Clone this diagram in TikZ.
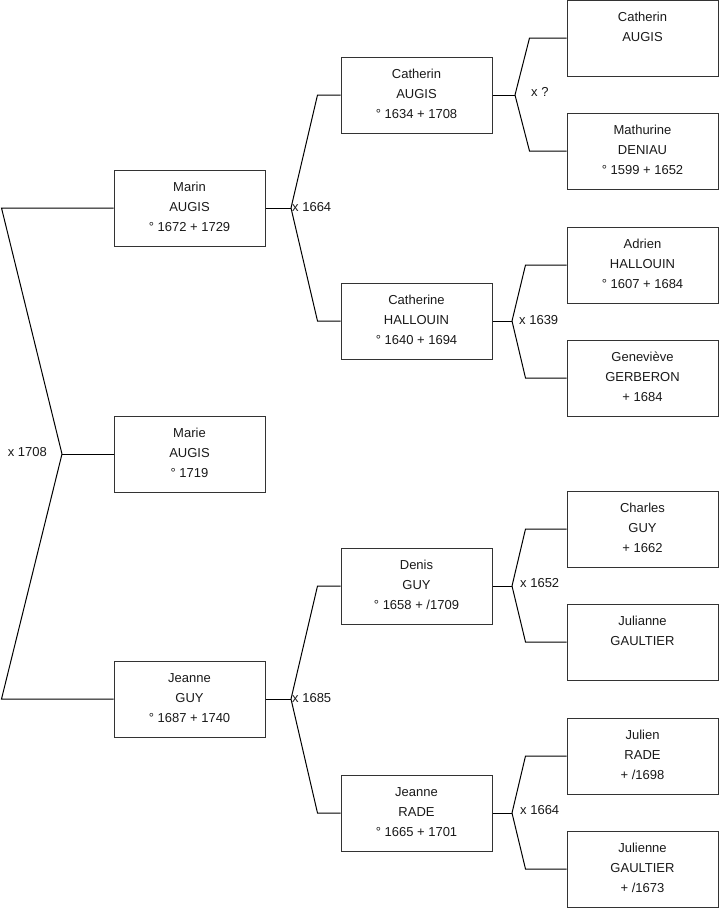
\documentclass[tikz,border=0pt]{standalone}
\usepackage{fontspec}
\setmainfont{Liberation Sans}
\usetikzlibrary{calc}
\tikzset{
 pbox/.style={draw=black!80, line width=1pt, minimum width=151pt, minimum height=76pt, inner sep=0pt},
 ptxt/.style={align=center, font=\fontsize{13}{20}\selectfont, inner sep=0pt, anchor=north, text=black!90},
 conn/.style={draw=black, line width=1pt},
 lbl/.style={font=\fontsize{13}{15}\selectfont, inner sep=0pt, text=black!90}
}
\newcommand{\person}[4]{%
  \node[pbox] (#1) at (#2) {};
  \node[ptxt] (#1t) at ($(#1.north)+(0,#3)$) {#4};
}
\begin{document}
\begin{tikzpicture}[x=1pt,y=-1pt]
\useasboundingbox (0,0) rectangle (719,908);
% column 1
\person{marin}{189.5,208}{12.5}{Marin\\AUGIS\\° 1672 + 1729}
\person{marie}{189.5,454}{12.5}{Marie\\AUGIS\\° 1719}
\person{jeanne}{189.5,699}{12.5}{Jeanne\\GUY\\° 1687 + 1740}
% column 2
\person{catherin}{416.5,95}{12.5}{Catherin\\AUGIS\\° 1634 + 1708}
\person{catherine}{416.5,321}{12.5}{Catherine\\HALLOUIN\\° 1640 + 1694}
\person{denis}{416.5,586}{12.5}{Denis\\GUY\\° 1658 + /1709}
\person{jrade}{416.5,813}{12.5}{Jeanne\\RADE\\° 1665 + 1701}
% column 3
\person{catherinp}{642.5,38}{12.5}{Catherin\\AUGIS}
\person{mathurine}{642.5,151}{12.5}{Mathurine\\DENIAU\\° 1599 + 1652}
\person{adrien}{642.5,265}{12.5}{Adrien\\HALLOUIN\\° 1607 + 1684}
\person{genevieve}{642.5,378}{12.5}{Geneviève\\GERBERON\\+ 1684}
\person{charles}{642.5,529}{12.5}{Charles\\GUY\\+ 1662}
\person{julianne}{642.5,642}{12.5}{Julianne\\GAULTIER}
\person{julien}{642.5,756}{12.5}{Julien\\RADE\\+ /1698}
\person{julienne}{642.5,869}{12.5}{Julienne\\GAULTIER\\+ /1673}
% root fork
\coordinate (f0) at (62,454);
\draw[conn] (marie.west) -- (f0);
\draw[conn] (f0) -- ([xshift=-112]marin.west) -- (marin.west);
\draw[conn] (f0) -- ([xshift=-112]jeanne.west) -- (jeanne.west);
\node[lbl, anchor=east] (l0) at (47,452) {x 1708};
% Marin fork
\coordinate (f1) at (291,208);
\draw[conn] (marin.east) -- (f1);
\draw[conn] (f1) -- ([xshift=-23]catherin.west) -- (catherin.west);
\draw[conn] (f1) -- ([xshift=-23]catherine.west) -- (catherine.west);
\node[lbl, anchor=west] (l1) at (292,207) {x 1664};
% Jeanne fork
\coordinate (f2) at (291,699);
\draw[conn] (jeanne.east) -- (f2);
\draw[conn] (f2) -- ([xshift=-23]denis.west) -- (denis.west);
\draw[conn] (f2) -- ([xshift=-23]jrade.west) -- (jrade.west);
\node[lbl, anchor=west] (l2) at (292,698) {x 1685};
% Catherin fork
\coordinate (f3) at (515,95);
\draw[conn] (catherin.east) -- (f3);
\draw[conn] (f3) -- ([xshift=-37]catherinp.west) -- (catherinp.west);
\draw[conn] (f3) -- ([xshift=-37]mathurine.west) -- (mathurine.west);
\node[lbl, anchor=west] (l3) at (531,92) {x ?};
% Catherine fork
\coordinate (f4) at (512,321);
\draw[conn] (catherine.east) -- (f4);
\draw[conn] (f4) -- ([xshift=-41]adrien.west) -- (adrien.west);
\draw[conn] (f4) -- ([xshift=-41]genevieve.west) -- (genevieve.west);
\node[lbl, anchor=west] (l4) at (519,320) {x 1639};
% Denis fork
\coordinate (f5) at (512,586);
\draw[conn] (denis.east) -- (f5);
\draw[conn] (f5) -- ([xshift=-41]charles.west) -- (charles.west);
\draw[conn] (f5) -- ([xshift=-41]julianne.west) -- (julianne.west);
\node[lbl, anchor=west] (l5) at (520,583) {x 1652};
% Jeanne RADE fork
\coordinate (f6) at (512,813);
\draw[conn] (jrade.east) -- (f6);
\draw[conn] (f6) -- ([xshift=-41]julien.west) -- (julien.west);
\draw[conn] (f6) -- ([xshift=-41]julienne.west) -- (julienne.west);
\node[lbl, anchor=west] (l6) at (520,810) {x 1664};
\end{tikzpicture}
\end{document}
